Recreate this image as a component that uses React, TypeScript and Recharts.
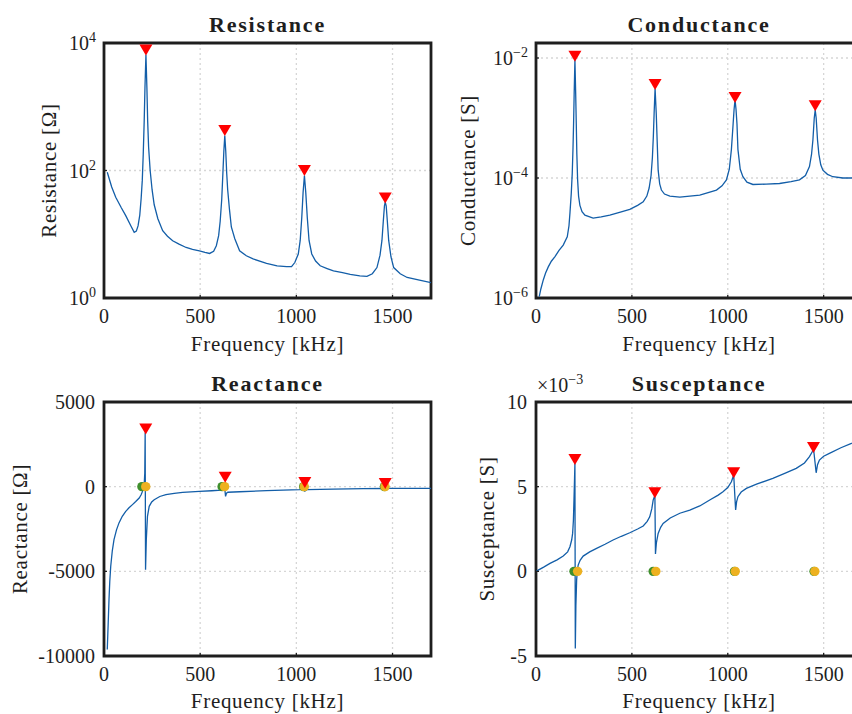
import { CartesianGrid, Line, LineChart, ReferenceArea, XAxis, YAxis } from "recharts";

const FONT = "'Liberation Serif', 'Times New Roman', serif";
const INK = "#1e1e1e";
const BLUE = "#135ea8";
const RED = "#ff0000";
const GREEN = "#3f8f2c";
const ORANGE = "#EDB120";

type Pt = [number, number];

const freqDomain: [number, number] = [0, 1700];
const freqTicks = [0, 500, 1000, 1500];
const freqGrid = [500, 1000, 1500];
const resistanceTicks = [1, 100, 10000];
const resistanceGrid = [100];
const conductanceTicks = [1e-6, 1e-4, 1e-2];
const conductanceGrid = [1e-4, 1e-2];
const reactanceTicks = [-10000, -5000, 0, 5000];
const reactanceGrid = [-5000, 0];
const susceptanceTicks = [-5, 0, 5, 10];
const susceptanceGrid = [0, 5];

// frequency [kHz], resistance [Ω]
const resistance: Pt[] = [
  [17, 94], [40, 55], [61, 38], [90, 26], [113, 19.6], [140, 13.5], [157, 10.7],
  [168, 11.2], [177, 13.5], [186, 20], [193, 36], [199, 70], [204, 180], [209, 600],
  [213, 2000], [218, 6600], [223, 2000], [227, 600], [232, 230], [240, 100], [250, 50],
  [261, 29], [280, 17.5], [305, 11.4], [330, 9.3], [357, 7.9], [390, 7], [427, 6.2],
  [460, 5.8], [496, 5.5], [525, 5.2], [549, 5.0], [570, 5.4], [584, 6.6], [596, 9.5],
  [604, 16], [612, 35], [618, 89], [623, 200], [628, 355], [633, 200], [638, 90],
  [643, 50], [652, 25], [662, 13], [680, 8.5], [705, 5.5], [740, 4.6], [775, 4.1],
  [845, 3.5], [900, 3.2], [949, 3.1], [975, 3.1], [992, 3.6], [1010, 4.9], [1020, 8],
  [1028, 18], [1035, 45], [1042, 83], [1049, 45], [1057, 18], [1066, 8], [1080, 4.9],
  [1100, 3.8], [1124, 3.2], [1160, 2.9], [1193, 2.66], [1240, 2.5], [1280, 2.34],
  [1330, 2.22], [1367, 2.19], [1395, 2.4], [1419, 3.0], [1435, 4.7], [1445, 8],
  [1452, 16], [1458, 28], [1462, 32], [1467, 28], [1473, 16], [1480, 8], [1492, 4.4],
  [1506, 3.0], [1540, 2.4], [1576, 2.1], [1640, 1.9], [1700, 1.74],
];
const resistancePeaks: Pt[] = [[218, 7800], [628, 426], [1042, 100], [1462, 37]];

// frequency [kHz], conductance [S]
const conductance: Pt[] = [
  [17, 1.05e-6], [25, 1.4e-6], [38, 2.0e-6], [50, 2.6e-6], [64, 3.3e-6], [80, 4.1e-6],
  [99, 4.9e-6], [120, 6.2e-6], [142, 7.6e-6], [163, 1.05e-5], [172, 1.6e-5],
  [177, 2.6e-5], [184, 5.6e-5], [189, 1.2e-4], [193, 3.2e-4], [196, 8.1e-4],
  [199, 2.5e-3], [203, 9.3e-3], [207, 2.5e-3], [210, 8.1e-4], [213, 2.5e-4],
  [217, 9.3e-5], [222, 5e-5], [229, 3.5e-5], [240, 2.75e-5], [255, 2.4e-5],
  [298, 2.14e-5], [340, 2.24e-5], [385, 2.4e-5], [440, 2.7e-5], [489, 3.0e-5],
  [530, 3.5e-5], [559, 4.0e-5], [578, 5e-5], [590, 6.8e-5], [600, 1.1e-4],
  [607, 2.2e-4], [612, 5e-4], [616, 1.2e-3], [621, 3.1e-3], [627, 1.2e-3],
  [632, 4e-4], [637, 1.35e-4], [645, 8e-5], [654, 6.3e-5], [670, 5.4e-5],
  [698, 5e-5], [750, 4.8e-5], [854, 5.2e-5], [941, 6.3e-5], [970, 7.4e-5],
  [993, 9.3e-5], [1008, 1.4e-4], [1019, 3e-4], [1028, 8e-4], [1033, 1.4e-3],
  [1038, 2.0e-3], [1043, 1.4e-3], [1048, 8e-4], [1053, 3e-4], [1065, 1.4e-4],
  [1079, 1.05e-4], [1100, 8.5e-5], [1131, 7.8e-5], [1200, 7.9e-5], [1270, 8.1e-5],
  [1330, 8.7e-5], [1374, 9.3e-5], [1405, 1.1e-4], [1426, 1.55e-4], [1437, 2.5e-4],
  [1444, 4.3e-4], [1451, 1.0e-3], [1456, 1.35e-3], [1461, 1.0e-3], [1468, 4.3e-4],
  [1475, 2.5e-4], [1485, 1.66e-4], [1496, 1.35e-4], [1520, 1.15e-4], [1548, 1.05e-4],
  [1600, 1.0e-4], [1645, 1.0e-4], [1700, 1.02e-4],
];
const conductancePeaks: Pt[] = [[203, 1.07e-2], [621, 3.6e-3], [1038, 2.2e-3], [1456, 1.6e-3]];

// frequency [kHz], reactance [Ω]
const reactance: Pt[] = [
  [17, -9620], [22, -8000], [26, -6670], [30, -5600], [35, -4700], [43, -3800],
  [52, -3130], [65, -2550], [78, -2140], [95, -1750], [113, -1460], [130, -1250],
  [148, -1060], [165, -880], [183, -670], [193, -480], [200, -280], [205, -50],
  [209, 120], [212, 800], [214, 3200], [216, -4900], [220, -3100], [226, -1750],
  [235, -1160], [248, -900], [261, -770], [290, -580], [322, -470], [365, -390],
  [409, -340], [496, -280], [560, -240], [609, -200], [621, -80], [627, -20],
  [632, -570], [637, -380], [644, -330], [705, -300], [845, -236], [1018, -180],
  [1036, -130], [1044, -260], [1055, -180], [1193, -140], [1350, -115], [1455, -100],
  [1461, -160], [1470, -105], [1700, -95],
];
const reactancePeaks: Pt[] = [[217, 3400], [630, 550], [1044, 250], [1462, 180]];
const reactanceZerosA: Pt[] = [[197, 0], [614, 0], [1038, 0], [1458, 0]];
const reactanceZerosB: Pt[] = [[217, 0], [627, 0], [1041, 0], [1461, 0]];

// frequency [kHz], susceptance [×10^-3 S]
const susceptance: Pt[] = [
  [0, 0.0], [40, 0.25], [73, 0.47], [110, 0.68], [142, 0.9], [165, 1.15], [177, 1.45],
  [186, 1.85], [191, 2.24], [195, 3.0], [198, 4.2], [201, 5.5], [203, 6.38],
  [205, -4.55], [208, -2.0], [212, -0.5], [216, 0.1], [220, 0.37], [230, 0.65],
  [246, 0.9], [280, 1.15], [316, 1.36], [360, 1.6], [402, 1.85], [445, 2.07],
  [489, 2.28], [530, 2.5], [559, 2.68], [580, 2.95], [593, 3.22], [604, 3.7],
  [611, 4.21], [620, 4.5], [623, 1.02], [628, 1.7], [637, 2.24], [650, 2.6],
  [663, 2.83], [700, 3.15], [750, 3.43], [802, 3.62], [854, 3.86], [906, 4.21],
  [950, 4.5], [975, 4.7], [1000, 4.95], [1019, 5.29], [1031, 5.69], [1041, 3.62],
  [1046, 4.1], [1053, 4.41], [1070, 4.68], [1097, 4.9], [1150, 5.15], [1235, 5.49],
  [1300, 5.8], [1357, 6.08], [1400, 6.4], [1426, 6.77], [1440, 7.05], [1447, 7.27],
  [1461, 5.82], [1468, 6.3], [1478, 6.57], [1500, 6.8], [1530, 6.97], [1590, 7.3],
  [1645, 7.56], [1700, 7.8],
];
const susceptancePeaks: Pt[] = [[203, 6.6], [620, 4.64], [1031, 5.82], [1447, 7.32]];
const susceptanceZerosA: Pt[] = [[198, 0], [611, 0], [1035, 0], [1450, 0]];
const susceptanceZerosB: Pt[] = [[217, 0], [625, 0], [1039, 0], [1454, 0]];

const rows = (pts: Pt[]) => pts.map(([f, v]) => ({ f, v }));

const tickLine = { stroke: INK, strokeWidth: 1.3 };
const tickText = { fill: INK, fontSize: 20, fontFamily: FONT };

function powerTick(props: any) {
  const { x, y, payload } = props;
  const exp = Math.round(Math.log10(payload.value));
  return (
    <text x={x + 1} y={y} dy={7} textAnchor="end" fill={INK} fontFamily={FONT} fontSize={20}>
      10
      <tspan dy={-8} fontSize={14}>
        {exp < 0 ? `\u2212${-exp}` : `${exp}`}
      </tspan>
    </text>
  );
}

function triangle(props: any) {
  const { cx, cy, index } = props;
  if (cx == null || cy == null) return <g key={index} />;
  return (
    <path
      key={index}
      d={`M${cx - 6.5},${cy - 5.5}L${cx + 6.5},${cy - 5.5}L${cx},${cy + 5.5}Z`}
      fill={RED}
    />
  );
}

const circle = (color: string) => (props: any) => {
  const { cx, cy, index } = props;
  if (cx == null || cy == null) return <g key={index} />;
  return <circle key={index} cx={cx} cy={cy} r={4.7} fill={color} />;
};

type PanelProps = {
  left: number;
  top: number;
  height: number;
  marginTop: number;
  marginBottom: number;
  xAxisHeight: number;
  yAxisWidth: number;
  marginRight: number;
  title: string;
  titleTop: number;
  yLabel: string;
  yLabelX: number;
  xLabelOffset: number;
  scale: "log" | "linear";
  domain: [number, number];
  yTicks: number[];
  yGrid: number[];
  logTicks?: boolean;
  curve: Pt[];
  peaks: Pt[];
  zerosA?: Pt[];
  zerosB?: Pt[];
  exponent?: string;
};

function Panel(p: PanelProps) {
  const width = 440;
  const plotWidth = width - p.yAxisWidth - p.marginRight;
  return (
    <div style={{ position: "absolute", left: p.left, top: p.top, width, height: p.height }}>
      <div
        style={{
          position: "absolute",
          left: p.yAxisWidth,
          top: p.titleTop,
          width: plotWidth,
          textAlign: "center",
          fontFamily: FONT,
          fontWeight: "bold",
          fontSize: 22,
          lineHeight: "22px",
          letterSpacing: 1.8,
          color: INK,
          whiteSpace: "nowrap",
        }}
      >
        {p.title}
      </div>
      {p.exponent && (
        <div
          style={{
            position: "absolute",
            left: p.yAxisWidth + 1,
            top: p.titleTop + 2,
            fontFamily: FONT,
            fontSize: 20,
            lineHeight: "20px",
            color: INK,
            whiteSpace: "nowrap",
          }}
        >
          {"\u00d710"}
          <span style={{ fontSize: 14, position: "relative", top: -8 }}>{p.exponent}</span>
        </div>
      )}
      <LineChart
        width={width}
        height={p.height}
        margin={{ top: p.marginTop - 1, right: p.marginRight - 1, bottom: p.marginBottom, left: 0 }}
      >
        <CartesianGrid
          stroke="#d6d6d6"
          strokeDasharray="2 3"
          strokeWidth={1.3}
          verticalValues={freqGrid}
          horizontalValues={p.yGrid}
        />
        <XAxis
          dataKey="f"
          type="number"
          domain={freqDomain}
          ticks={freqTicks}
          allowDataOverflow
          height={p.xAxisHeight}
          tickSize={-3}
          tickMargin={14}
          tick={tickText}
          tickLine={tickLine}
          axisLine={false}
          label={{
            value: "Frequency [kHz]",
            position: "insideBottom",
            offset: p.xLabelOffset,
            fill: INK,
            fontSize: 21,
            fontFamily: FONT,
            style: { letterSpacing: "0.7px" },
          }}
        />
        <XAxis
          xAxisId="top"
          orientation="top"
          dataKey="f"
          type="number"
          domain={freqDomain}
          ticks={freqTicks}
          allowDataOverflow
          height={1}
          tickSize={-4}
          tick={false}
          tickLine={tickLine}
          axisLine={false}
        />
        <YAxis
          dataKey="v"
          type="number"
          scale={p.scale}
          domain={p.domain}
          ticks={p.yTicks}
          allowDataOverflow
          width={p.yAxisWidth}
          tickSize={-3}
          tickMargin={12}
          tick={p.logTicks ? powerTick : tickText}
          tickLine={tickLine}
          axisLine={false}
          label={{
            value: p.yLabel,
            angle: -90,
            position: "insideLeft",
            offset: p.yLabelX,
            fill: INK,
            fontSize: 21,
            fontFamily: FONT,
            style: { textAnchor: "middle", letterSpacing: "0.7px" },
          }}
        />
        <YAxis
          yAxisId="right"
          orientation="right"
          type="number"
          scale={p.scale}
          domain={p.domain}
          ticks={p.yTicks}
          allowDataOverflow
          width={1}
          tickSize={-4}
          tick={false}
          tickLine={tickLine}
          axisLine={false}
        />
        <ReferenceArea
          x1={freqDomain[0]}
          x2={freqDomain[1]}
          y1={p.domain[0]}
          y2={p.domain[1]}
          fill="none"
          fillOpacity={0}
          stroke={INK}
          strokeWidth={2.8}
          strokeOpacity={1}
        />
        <Line
          data={rows(p.curve)}
          dataKey="v"
          type="linear"
          stroke={BLUE}
          strokeWidth={1.3}
          dot={false}
          activeDot={false}
          isAnimationActive={false}
        />
        {p.zerosA && (
          <Line
            data={rows(p.zerosA)}
            dataKey="v"
            stroke="none"
            dot={circle(GREEN)}
            activeDot={false}
            isAnimationActive={false}
          />
        )}
        {p.zerosB && (
          <Line
            data={rows(p.zerosB)}
            dataKey="v"
            stroke="none"
            dot={circle(ORANGE)}
            activeDot={false}
            isAnimationActive={false}
          />
        )}
        <Line
          data={rows(p.peaks)}
          dataKey="v"
          stroke="none"
          dot={triangle}
          activeDot={false}
          isAnimationActive={false}
        />
      </LineChart>
    </div>
  );
}

export default function App() {
  return (
    <div
      style={{
        position: "absolute",
        left: 0,
        top: 0,
        width: 852,
        height: 714,
        overflow: "hidden",
        background: "#ffffff",
      }}
    >
      <Panel
        left={0}
        top={0}
        height={360}
        marginTop={43}
        marginBottom={2}
        xAxisHeight={60}
        yAxisWidth={104}
        marginRight={9}
        title="Resistance"
        titleTop={14}
        yLabel="Resistance [Ω]"
        yLabelX={49}
        xLabelOffset={7}
        scale="log"
        domain={[1, 10000]}
        yTicks={resistanceTicks}
        yGrid={resistanceGrid}
        logTicks
        curve={resistance}
        peaks={resistancePeaks}
      />
      <Panel
        left={430}
        top={0}
        height={360}
        marginTop={43}
        marginBottom={2}
        xAxisHeight={60}
        yAxisWidth={106}
        marginRight={8}
        title="Conductance"
        titleTop={14}
        yLabel="Conductance [S]"
        yLabelX={38}
        xLabelOffset={7}
        scale="log"
        domain={[1e-6, 0.01778]}
        yTicks={conductanceTicks}
        yGrid={conductanceGrid}
        logTicks
        curve={conductance}
        peaks={conductancePeaks}
      />
      <Panel
        left={0}
        top={360}
        height={354}
        marginTop={42}
        marginBottom={3}
        xAxisHeight={55}
        yAxisWidth={104}
        marginRight={9}
        title="Reactance"
        titleTop={13}
        yLabel="Reactance [Ω]"
        yLabelX={20}
        xLabelOffset={3}
        scale="linear"
        domain={[-10000, 5000]}
        yTicks={reactanceTicks}
        yGrid={reactanceGrid}
        curve={reactance}
        peaks={reactancePeaks}
        zerosA={reactanceZerosA}
        zerosB={reactanceZerosB}
      />
      <Panel
        left={430}
        top={360}
        height={354}
        marginTop={42}
        marginBottom={3}
        xAxisHeight={55}
        yAxisWidth={106}
        marginRight={8}
        title="Susceptance"
        titleTop={13}
        yLabel="Susceptance [S]"
        yLabelX={57}
        xLabelOffset={3}
        scale="linear"
        domain={[-5, 10]}
        yTicks={susceptanceTicks}
        yGrid={susceptanceGrid}
        curve={susceptance}
        peaks={susceptancePeaks}
        zerosA={susceptanceZerosA}
        zerosB={susceptanceZerosB}
        exponent={"\u22123"}
      />
    </div>
  );
}
